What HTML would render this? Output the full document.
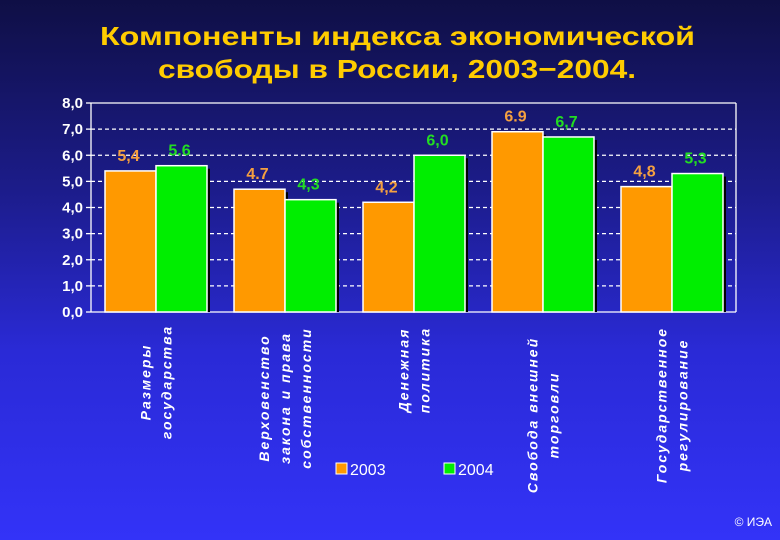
<!DOCTYPE html>
<html><head><meta charset="utf-8">
<style>
html,body{margin:0;padding:0;}
body{width:780px;height:540px;overflow:hidden;background:linear-gradient(#0f0f45 0%,#1c1c8a 35%,#2a2ad6 65%,#3333f8 100%);font-family:"Liberation Sans","DejaVu Sans",sans-serif;}
svg{display:block;}
</style></head>
<body>
<svg id="chart" width="780" height="540">
<text x="100" y="45" textLength="595" lengthAdjust="spacingAndGlyphs" fill="#ffcc00" font-size="26" font-weight="bold">Компоненты индекса экономической</text>
<text x="158" y="78" textLength="478" lengthAdjust="spacingAndGlyphs" fill="#ffcc00" font-size="26" font-weight="bold">свободы в России, 2003−2004.</text>
<g id="grid"></g><g id="bars"></g><g id="labels"></g>
<rect x="336" y="463" width="11" height="11" fill="#ff9900" stroke="#fff" stroke-width="1"/>
<text x="350" y="475" fill="#fff" font-size="16">2003</text>
<rect x="444" y="463" width="11" height="11" fill="#00ee00" stroke="#fff" stroke-width="1"/>
<text x="458" y="475" fill="#fff" font-size="16">2004</text>
<text x="772" y="526" text-anchor="end" fill="#fff" font-size="12">© ИЭА</text>
</svg>
<script>
const categories=[["Размеры","государства"],["Верховенство","закона и права","собственности"],["Денежная","политика"],["Свобода внешней","торговли"],["Государственное","регулирование"]];
const values2003=[5.4,4.7,4.2,6.9,4.8];
const values2004=[5.6,4.3,6.0,6.7,5.3];
const labels2003=["5,4","4.7","4,2","6.9","4,8"];
const labels2004=["5.6","4,3","6,0","6,7","5,3"];
const yTicks=[0,1,2,3,4,5,6,7,8];
const yTickLabels=["0,0","1,0","2,0","3,0","4,0","5,0","6,0","7,0","8,0"];
const labelCenters=[382,398,370,415,405];
const NS="http://www.w3.org/2000/svg";
const X0=91,X1=736,Y0=312,YT=103,YMAX=8;
const groupW=(X1-X0)/categories.length;
function y(v){return Y0-(v/YMAX)*(Y0-YT);}
function gx(i){return X0+i*groupW;}
function mk(t,a,p){const e=document.createElementNS(NS,t);for(const k in a)e.setAttribute(k,a[k]);p.appendChild(e);return e;}
const grid=document.getElementById('grid'),bars=document.getElementById('bars'),labels=document.getElementById('labels');
yTicks.forEach((t,i)=>{
  const yy=y(t);
  const line=mk('line',{x1:X0,x2:X1,y1:yy,y2:yy,stroke:'#fff','stroke-width':1.3,'stroke-dasharray':(t===0||t===YMAX)?'':'4,3'},grid);
  
  
  mk('line',{x1:X0-5,x2:X0,y1:yy,y2:yy,stroke:'#fff','stroke-width':1.3},grid);
  const tx=mk('text',{x:X0-8,y:yy+5,'text-anchor':'end',fill:'#fff','font-size':15,'font-weight':'bold'},grid);
  tx.textContent=yTickLabels[i];
  
  
});
const ax=mk('line',{x1:X0,x2:X0,y1:YT,y2:Y0,stroke:'#fff','stroke-width':1.3},grid);


mk('line',{x1:X1,x2:X1,y1:YT,y2:Y0,stroke:'#fff','stroke-width':1.3},grid);
const bw=51;
function bar(xx,v,col,lbl,lcol,name){
  mk('rect',{x:xx+3,y:y(v)+3,width:bw,height:Y0-y(v)-3,fill:'#000'},bars);
  const r=mk('rect',{x:xx,y:y(v),width:bw,height:Y0-y(v),fill:col,stroke:'#fff','stroke-width':1.5},bars);
  
  
  const t=mk('text',{x:xx+bw/2-2,y:y(v)-10,'text-anchor':'middle',fill:lcol,'font-size':16,'font-weight':'bold'},labels);
  t.textContent=lbl;
  
  
}
categories.forEach((c,i)=>{
  const s=gx(i)+14;
  bar(s,values2003[i],'#ff9900',labels2003[i],'#f5a040','bar-2003-'+i);
  bar(s+bw,values2004[i],'#00ee00',labels2004[i],'#22dd22','bar-2004-'+i);
  const cx=s+bw;const cy=labelCenters[i];
  const n=c.length;
  c.forEach((ln,j)=>{
    const lx=cx+(j-(n-1)/2)*21+5;
    const t=mk('text',{x:0,y:0,transform:'translate('+lx+','+cy+') rotate(-90)','text-anchor':'middle',fill:'#fff','font-size':14,'font-weight':'bold','font-style':'italic','letter-spacing':'2'},labels);
    t.textContent=ln;
    
    
  });
});
</script>
</body></html>
